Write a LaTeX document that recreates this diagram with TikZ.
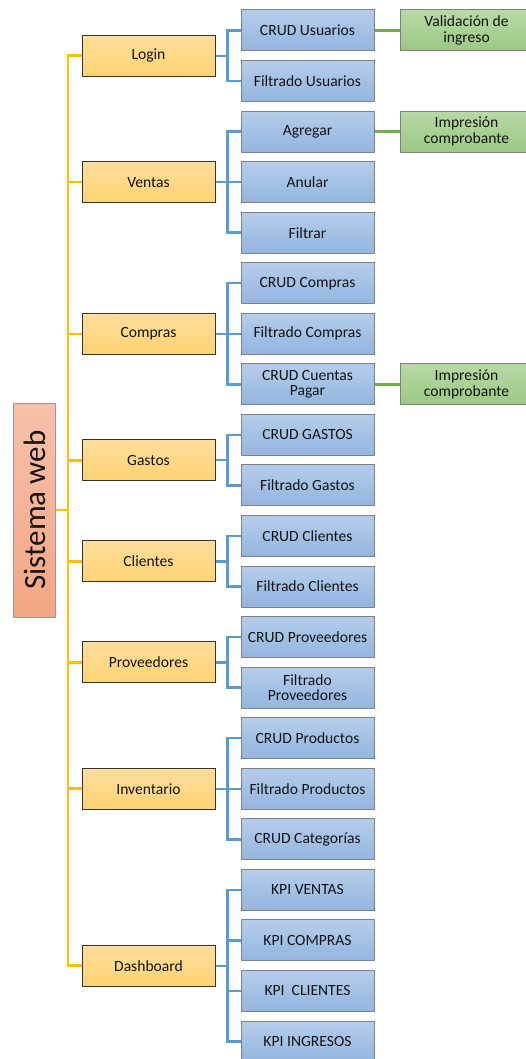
\documentclass[tikz,border=0pt]{standalone}
\usepackage{fontspec}
\setmainfont{Carlito}
\definecolor{yTop}{HTML}{FFDE9C}
\definecolor{yBot}{HTML}{FFD374}
\definecolor{bTop}{HTML}{B5CDEB}
\definecolor{bBot}{HTML}{93B5DF}
\definecolor{gTop}{HTML}{B8D9A6}
\definecolor{gBot}{HTML}{9BC983}
\definecolor{sTop}{HTML}{F7C0AA}
\definecolor{sBot}{HTML}{F4A684}
\definecolor{ylink}{HTML}{FFC000}
\definecolor{blink}{HTML}{5B9BD5}
\definecolor{glink}{HTML}{70AD47}
\definecolor{txt}{HTML}{141414}
\tikzset{
  box/.style={minimum width=133pt, minimum height=41pt, inner sep=0pt,
    align=center, text=txt, line width=1pt,
    font=\fontsize{15.6}{15.5}\selectfont},
  modbox/.style={box, draw=black!80, top color=yTop, bottom color=yBot},
  subbox/.style={box, draw=black!50, top color=bTop, bottom color=bBot},
  extbox/.style={box, draw=black!50, top color=gTop, bottom color=gBot},
  rootbox/.style={minimum width=214pt, minimum height=42pt, inner sep=0pt,
    rotate=90, draw=black!40, line width=1pt, top color=sTop, bottom color=sBot,
    text=txt, font=\fontsize{31}{31}\selectfont},
  yline/.style={draw=ylink, line width=2.6pt},
  bline/.style={draw=blink, line width=2.4pt},
  gline/.style={draw=glink, line width=2.4pt},
}
\begin{document}
\begin{tikzpicture}[x=1pt,y=-1pt]
\useasboundingbox (0,0) rectangle (526,1059);
\clip (0,0) rectangle (526,1059);
\fill[white] (0,0) rectangle (526,1059);

% trunk positions
\coordinate (trunk) at (68,0);
\coordinate (bx) at (227.5,0);

% root
\node[rootbox] (sw) at (34.7,510) {Sistema web};

% modules
\node[modbox] (login) at (148.5,55.8)  {Login};
\node[modbox] (ventas) at (148.5,182.15) {Ventas};
\node[modbox] (compras) at (148.5,333.8) {Compras};
\node[modbox] (gastos) at (148.5,460.2) {Gastos};
\node[modbox] (clientes) at (148.5,561.3) {Clientes};
\node[modbox] (prov) at (148.5,662.4) {Proveedores};
\node[modbox] (inv) at (148.5,788.75) {Inventario};
\node[modbox] (dash) at (148.5,965.7) {Dashboard};

% sub-functions
\node[subbox] (s0) at (307.5,30.5) {CRUD Usuarios};
\node[subbox] (s1) at (307.5,81.05) {Filtrado Usuarios};
\node[subbox] (s2) at (307.5,131.6) {Agregar};
\node[subbox] (s3) at (307.5,182.15) {Anular};
\node[subbox] (s4) at (307.5,232.7) {Filtrar};
\node[subbox] (s5) at (307.5,283.25) {CRUD Compras};
\node[subbox] (s6) at (307.5,333.8) {Filtrado Compras};
\node[subbox] (s7) at (307.5,384.35) {CRUD Cuentas\\Pagar};
\node[subbox] (s8) at (307.5,434.9) {CRUD GASTOS};
\node[subbox] (s9) at (307.5,485.45) {Filtrado Gastos};
\node[subbox] (s10) at (307.5,536) {CRUD Clientes};
\node[subbox] (s11) at (307.5,586.55) {Filtrado Clientes};
\node[subbox] (s12) at (307.5,637.1) {CRUD Proveedores};
\node[subbox] (s13) at (307.5,687.65) {Filtrado\\Proveedores};
\node[subbox] (s14) at (307.5,738.2) {CRUD Productos};
\node[subbox] (s15) at (307.5,788.75) {Filtrado Productos};
\node[subbox] (s16) at (307.5,839.3) {CRUD Categorías};
\node[subbox] (s17) at (307.5,889.85) {KPI VENTAS};
\node[subbox] (s18) at (307.5,940.4) {KPI COMPRAS};
\node[subbox] (s19) at (307.5,990.95) {KPI\ \ CLIENTES};
\node[subbox] (s20) at (307.5,1041.5) {KPI INGRESOS};

% extra steps
\node[extbox] (e0) at (466.5,30.5) {Validación de\\ingreso};
\node[extbox] (e2) at (466.5,131.6) {Impresión\\comprobante};
\node[extbox] (e7) at (466.5,384.35) {Impresión\\comprobante};

% root to modules
\draw[yline] (login.west) -- (login.west -| trunk) |- (dash.west);
\draw[yline] (sw.south) -- (sw.south -| trunk);
\foreach \m in {ventas,compras,gastos,clientes,prov,inv}
  \draw[yline] (\m.west) -- (\m.west -| trunk);

% modules to sub-functions
\foreach \m/\a/\b in {login/s0/s1, ventas/s2/s4, compras/s5/s7, gastos/s8/s9,
                      clientes/s10/s11, prov/s12/s13, inv/s14/s16, dash/s17/s20}{
  \draw[bline] (\m.east) -- (\m.east -| bx);
  \draw[bline] (\a.west) -- (\a.west -| bx) |- (\b.west);
}
\foreach \s in {s3,s6,s15,s18,s19}
  \draw[bline] (\s.west) -- (\s.west -| bx);

% sub-functions to extra steps
\draw[gline] (s0.east) -- (e0.west);
\draw[gline] (s2.east) -- (e2.west);
\draw[gline] (s7.east) -- (e7.west);
\end{tikzpicture}
\end{document}
